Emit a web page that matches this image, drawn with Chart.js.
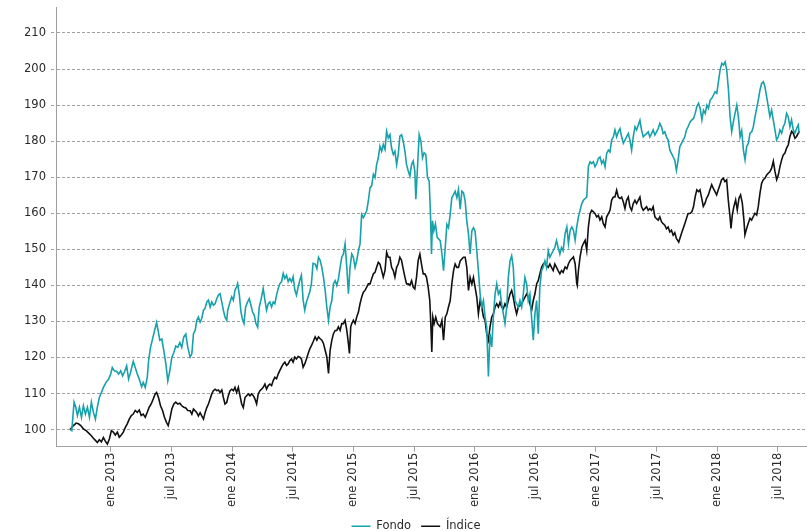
<!DOCTYPE html>
<html>
<head>
<meta charset="utf-8">
<script src="https://cdn.jsdelivr.net/npm/chart.js@4.4.1/dist/chart.umd.min.js"></script>
<style>
  html, body { margin: 0; padding: 0; background: #fff; overflow: hidden; }
  canvas { display: block; }
</style>
</head>
<body>
<canvas id="grafico" width="807" height="542"></canvas>
<script>
// Eje X en meses contados desde enero de 2012 (12 = ene 2013)
const ticksX = [12, 18, 24, 30, 36, 42, 48, 54, 60, 66, 72, 78];
const etiquetasX = ['ene 2013', 'jul 2013', 'ene 2014', 'jul 2014', 'ene 2015', 'jul 2015',
    'ene 2016', 'jul 2016', 'ene 2017', 'jul 2017', 'ene 2018', 'jul 2018'];
const ticksY = [100, 110, 120, 130, 140, 150, 160, 170, 180, 190, 200, 210];

const mesesFondo = [
    7.98, 8.14, 8.37, 8.54, 8.70, 8.90, 9.10, 9.29, 9.49, 9.69,
    9.89, 10.08, 10.28, 10.48, 10.67, 10.87, 11.07, 11.27, 11.53, 11.79,
    11.99, 12.15, 12.35, 12.58, 12.78, 12.98, 13.17, 13.37, 13.57, 13.76,
    13.96, 14.22, 14.42, 14.62, 14.82, 15.05, 15.21, 15.41, 15.61, 15.74,
    15.93, 16.13, 16.33, 16.53, 16.69, 16.85, 17.05, 17.25, 17.45, 17.64,
    17.84, 18.04, 18.24, 18.43, 18.63, 18.83, 19.02, 19.22, 19.42, 19.62,
    19.85, 20.02, 20.18, 20.35, 20.51, 20.67, 20.84, 21.00, 21.17, 21.33,
    21.50, 21.66, 21.83, 21.99, 22.15, 22.32, 22.48, 22.65, 22.81, 22.98,
    23.14, 23.30, 23.47, 23.57, 23.80, 23.96, 24.13, 24.29, 24.45, 24.55,
    24.72, 24.88, 25.01, 25.18, 25.34, 25.54, 25.70, 25.87, 26.03, 26.20,
    26.36, 26.53, 26.69, 26.85, 27.08, 27.25, 27.41, 27.58, 27.74, 27.91,
    28.07, 28.23, 28.40, 28.56, 28.73, 28.89, 29.06, 29.22, 29.39, 29.55,
    29.71, 29.88, 30.04, 30.21, 30.37, 30.54, 30.70, 30.86, 31.03, 31.19,
    31.36, 31.52, 31.69, 31.85, 32.01,
    32.22, 32.39, 32.55, 32.72, 32.88, 33.04, 33.21, 33.37, 33.54, 33.70,
    33.87, 34.03, 34.20, 34.36, 34.52, 34.69, 34.85, 35.02, 35.18, 35.35,
    35.51, 35.67, 35.84, 36.00, 36.17, 36.33, 36.50, 36.66, 36.82, 36.99,
    37.15, 37.32, 37.48, 37.65, 37.81, 37.98, 38.14, 38.30, 38.47, 38.63,
    38.80, 38.96, 39.13, 39.29, 39.45, 39.62, 39.78, 39.95, 40.11, 40.28,
    40.44, 40.60, 40.77, 40.93, 41.10, 41.26, 41.43, 41.59, 41.76, 41.92,
    42.08, 42.18, 42.31, 42.51, 42.68, 42.84, 43.00, 43.17, 43.33, 43.50,
    43.63, 43.73, 43.83, 43.96, 44.12, 44.29,
    44.59, 44.76, 44.92, 45.09, 45.25, 45.41, 45.58, 45.74, 45.91, 46.07,
    46.24, 46.40, 46.57, 46.73, 46.89, 47.06, 47.22, 47.39, 47.55, 47.72,
    47.88, 48.04, 48.21, 48.37, 48.54, 48.70, 48.87, 49.03, 49.19, 49.36,
    49.52, 49.69, 49.85, 50.02, 50.18, 50.35, 50.51, 50.67, 50.84, 51.00,
    51.17, 51.33, 51.50, 51.66, 51.82, 51.99, 52.15, 52.32, 52.48, 52.65,
    52.81, 52.97, 53.14, 53.30, 53.47, 53.63, 53.80, 53.96, 54.13, 54.29,
    54.45, 54.62, 54.78, 54.95, 55.11, 55.28, 55.44, 55.60, 55.77, 55.93,
    56.10, 56.26, 56.43, 56.59, 56.75,
    56.95, 57.12, 57.28, 57.45, 57.61, 57.77, 57.94, 58.10, 58.27, 58.43,
    58.60, 58.76, 58.93, 59.09, 59.25, 59.42, 59.58, 59.75, 59.91, 60.08,
    60.24, 60.40, 60.57, 60.73, 60.90, 61.06, 61.23, 61.39, 61.55, 61.72,
    61.88, 62.05, 62.21, 62.38, 62.54, 62.71, 62.87, 63.03, 63.20, 63.36,
    63.53, 63.69, 63.86, 64.02, 64.18, 64.35, 64.51, 64.68, 64.84, 65.01,
    65.17, 65.33, 65.50, 65.66, 65.83, 65.99, 66.16, 66.32, 66.49, 66.65,
    66.81, 66.98, 67.14, 67.31, 67.47, 67.64, 67.80, 67.96, 68.13, 68.29,
    68.46, 68.62, 68.79, 68.95, 69.11,
    69.33, 69.49, 69.65, 69.82, 69.98, 70.15, 70.31, 70.48, 70.64, 70.81,
    70.97, 71.13, 71.30, 71.46, 71.63, 71.79, 71.96, 72.12, 72.28, 72.45,
    72.61, 72.78, 72.94, 73.11, 73.27, 73.43, 73.60, 73.76, 73.93, 74.09,
    74.26, 74.42, 74.59, 74.75, 74.91, 75.08, 75.24, 75.41, 75.57, 75.74,
    75.90, 76.06, 76.23, 76.39, 76.56, 76.72, 76.89, 77.05, 77.21, 77.38,
    77.54, 77.71, 77.87, 78.04, 78.20, 78.37, 78.53, 78.69, 78.86, 79.02,
    79.19, 79.35, 79.52, 79.68, 79.85, 80.01, 80.11
];
const fondo = [
    100, 99.7, 107.6, 106.2, 103.9, 106.2, 103.4, 106.6, 104.3, 106.2,
    103.4, 107.6, 104.8, 102.9, 106.2, 108.9, 110.3, 111.7, 113.1, 114,
    115.4, 117.2, 116.3, 116.1, 115.4, 116.3, 114.9, 116.1, 117.7, 114,
    115.9, 118.9, 117.2, 115.4, 114, 111.9, 113.1, 111.7, 114.5, 119.1,
    122.8, 125.1, 127.4, 129.7, 127.4, 124.8, 125.1, 121.8, 118.2, 113.5,
    116.3, 120, 121.4, 123.2, 122.8, 124.1, 122.8, 125.7, 126.5, 122.8,
    120.1, 121, 126.6, 127.5, 130.3, 131.2, 129.8, 130.8, 133.1, 133.6,
    135.4, 135.9, 134, 135.4, 134.5, 134.9, 136.3, 137.3, 137.7, 135.4,
    133.1, 131.2, 130.3, 133.1, 135.4, 136.8, 135.9, 138.7, 139.6, 140.5,
    137.3, 132.6, 130.8, 129.4, 134, 135.4, 136.3, 134.5, 132.6, 131.7,
    129.4, 128.4, 134, 135.9, 139.1, 135.9, 133.1, 134.9, 135.4, 134,
    135.4, 134.9, 137.3, 139.1, 140.5, 141, 143.3, 141.9, 142.8, 141,
    141.9, 141, 142.4, 138.7, 137.3, 139.6, 141.4, 142.8, 135.9, 133.1,
    135.4, 136.8, 138.2, 140.5, 146.1,
    145.9, 144.6, 147.8, 146.9, 145, 142.3, 138.6, 134, 130.3, 134,
    135.8, 140.4, 141.3, 140, 141.8, 145, 147.8, 148.7, 151.5, 145,
    137.7, 145, 148.7, 147.8, 145, 146.9, 149.6, 151.5, 159.7, 158.8,
    159.7, 160.7, 163.4, 167.1, 167.6, 170.8, 169.9, 173.5, 175.4, 178.6,
    177.2, 179.1, 177.7, 182.7, 180.9, 181.8, 178.1, 176.3, 177.2, 173.5,
    176.3, 181.4, 181.8, 180, 177.2, 173.5, 171.7, 170.3, 173.5, 174.5,
    171.7, 163.9, 170.8, 181.8, 180, 175.4, 176.8, 176.3, 169.9, 168.9,
    159.7, 148.7, 157.9, 155.1, 157, 153.3,
    152.4, 148.7, 144.1, 150.5, 156.9, 156, 159.7, 164.3, 165.2, 166.1,
    164.3, 166.6, 161.1, 166.1, 165.7, 163.4, 157.9, 154.2, 148.7, 155.1,
    156, 155.1, 149.6, 144.1, 137.6, 134, 135.8, 131.2, 128.5, 114.7,
    126.6, 122.9, 131.2, 137.6, 140.4, 137.6, 138.6, 134.9, 132.1, 129.4,
    134, 142.2, 146.8, 148.2, 145, 135.8, 134.9, 134, 135.8, 134,
    137.6, 142.2, 140.4, 135.8, 137.6, 131.2, 124.8, 132.1, 135.8, 126.6,
    139.5, 144.1, 145, 146.8, 145, 149.6, 147.8, 148.7, 149.6, 150.5,
    152.4, 150.5, 148.7, 150.5, 149.6,
    154.4, 156.2, 151.6, 155.3, 156.2, 155.3, 152.5, 156.2, 159, 160.8,
    162.7, 163.6, 164.1, 164.5, 172.9, 174.3, 173.8, 174.3, 172.9, 173.8,
    175.2, 175.6, 173.8, 174.7, 172.9, 176.6, 177.5, 177, 180.3, 181.2,
    183.1, 181.2, 182.6, 183.5, 181.2, 179.4, 180.3, 181.2, 182.1, 180.3,
    177.5, 181.2, 184, 183.1, 184.4, 185.8, 183.1, 181.2, 181.7, 182.1,
    182.6, 181.2, 182.1, 183.1, 181.7, 182.6, 183.5, 184.9, 183.9, 182.1,
    182.6, 181.2, 180.3, 177.5, 176.6, 175.6, 174.7, 171.9, 174.7, 178.4,
    179.4, 180.3, 181.2, 183.1, 184,
    185.4, 185.9, 186.3, 187.7, 189.6, 190.5, 189.1, 185.9, 188.6, 187.7,
    190, 189.1, 191.4, 191.9, 192.8, 193.7, 193.3, 196.5, 199.7, 201.6,
    201.1, 202, 199.7, 194.2, 186.8, 182.6, 185.4, 187.7, 190, 186.8,
    181.2, 182.9, 177.5, 174.8, 178.5, 179.4, 182.2, 182.6, 184, 186.8,
    189.1, 191.4, 194.2, 196, 196.5, 195.1, 192.3, 189.6, 186.8, 188.6,
    185.9, 183.1, 180.3, 181.2, 183.1, 182.2, 184, 184.9, 187.7, 186.8,
    184, 185.9, 183.1, 182.2, 183.5, 184.5, 182.2
];

const mesesIndice = [
    7.98, 8.31, 8.57, 8.80, 9.03, 9.29, 9.56, 9.82, 10.08, 10.28,
    10.48, 10.67, 10.87, 11.07, 11.27, 11.46, 11.66, 11.86, 12.06, 12.25,
    12.45, 12.65, 12.84, 13.04, 13.24, 13.44, 13.63, 13.83, 14.03, 14.22,
    14.42, 14.62, 14.82, 15.01, 15.21, 15.41, 15.61, 15.80, 16.00, 16.20,
    16.39, 16.53, 16.72, 16.92, 17.12, 17.31, 17.51, 17.68, 17.84, 18.04,
    18.24, 18.43, 18.63, 18.83, 19.02, 19.22, 19.42, 19.62,
    19.85, 20.02, 20.18, 20.35, 20.51, 20.67, 20.84, 21.00, 21.17, 21.33,
    21.50, 21.66, 21.83, 21.99, 22.15, 22.32, 22.48, 22.65, 22.81, 22.98,
    23.14, 23.30, 23.47, 23.63, 23.80, 23.96, 24.13, 24.29, 24.45, 24.62,
    24.78, 24.95, 25.11, 25.28, 25.44, 25.61, 25.77, 25.93, 26.10, 26.26,
    26.43, 26.59, 26.76, 26.92, 27.08, 27.25, 27.41, 27.58, 27.74, 27.91,
    28.07, 28.23, 28.40, 28.56, 28.73, 28.89, 29.06, 29.22, 29.39, 29.55,
    29.71, 29.88, 30.04, 30.21, 30.37, 30.54, 30.70, 30.86, 31.03, 31.19,
    31.36, 31.52, 31.69, 31.85, 32.01,
    32.22, 32.39, 32.55, 32.72, 32.88, 33.04, 33.21, 33.37, 33.54, 33.70,
    33.87, 34.03, 34.20, 34.36, 34.52, 34.69, 34.85, 35.02, 35.18, 35.35,
    35.51, 35.61, 35.74, 35.84, 36.00, 36.17, 36.33, 36.50, 36.66, 36.82,
    36.99, 37.15, 37.32, 37.48, 37.65, 37.81, 37.98, 38.14, 38.30, 38.47,
    38.63, 38.80, 38.96, 39.13, 39.29, 39.45, 39.62, 39.78, 39.95, 40.11,
    40.28, 40.44, 40.60, 40.77, 40.93, 41.10, 41.26, 41.43, 41.59, 41.76,
    41.92, 42.08, 42.25, 42.41, 42.58, 42.74, 42.91, 43.07, 43.23, 43.40,
    43.56, 43.66, 43.76, 43.86, 43.99, 44.15, 44.32,
    44.59, 44.76, 44.92, 45.09, 45.25, 45.41, 45.58, 45.74, 45.91, 46.07,
    46.24, 46.40, 46.57, 46.73, 46.89, 47.06, 47.22, 47.39, 47.55, 47.72,
    47.88, 48.04, 48.21, 48.37, 48.54, 48.70, 48.87, 49.03, 49.19, 49.36,
    49.52, 49.69, 49.85, 50.02, 50.18, 50.35, 50.51, 50.67, 50.84, 51.00,
    51.17, 51.33, 51.50, 51.66, 51.82, 51.99, 52.15, 52.32, 52.48, 52.65,
    52.81, 52.97, 53.14, 53.30, 53.47, 53.63, 53.80, 53.96, 54.13, 54.29,
    54.45, 54.62, 54.78, 54.95, 55.11, 55.28, 55.44, 55.60, 55.77, 55.93,
    56.10, 56.26, 56.43, 56.59, 56.75,
    56.95, 57.12, 57.28, 57.45, 57.61, 57.77, 57.94, 58.10, 58.15, 58.27,
    58.43, 58.60, 58.76, 58.93, 59.09, 59.25, 59.42, 59.58, 59.75, 59.91,
    60.08, 60.24, 60.40, 60.57, 60.73, 60.90, 61.06, 61.23, 61.39, 61.55,
    61.72, 61.88, 62.05, 62.21, 62.38, 62.54, 62.71, 62.87, 63.03, 63.20,
    63.36, 63.53, 63.69, 63.86, 64.02, 64.18, 64.35, 64.51, 64.68, 64.84,
    65.01, 65.17, 65.33, 65.50, 65.66, 65.83, 65.99, 66.16, 66.32, 66.49,
    66.65, 66.81, 66.98, 67.14, 67.31, 67.47, 67.64, 67.80, 67.96, 68.19,
    68.46, 68.79, 69.11,
    69.33, 69.49, 69.65, 69.82, 69.98, 70.15, 70.29, 70.46, 70.62, 70.79,
    70.95, 71.12, 71.28, 71.45, 71.61, 71.78, 71.94, 72.10, 72.27, 72.43,
    72.60, 72.76, 72.93, 73.09, 73.26, 73.36, 73.49, 73.65, 73.82, 73.98,
    74.15, 74.31, 74.48, 74.64, 74.74, 74.91, 75.07, 75.24, 75.40, 75.57,
    75.73, 75.90, 76.06, 76.23, 76.39, 76.56, 76.72, 76.89, 77.05, 77.22,
    77.38, 77.55, 77.71, 77.88, 78.04, 78.21, 78.37, 78.53, 78.70, 78.86,
    79.03, 79.19, 79.36, 79.52, 79.69, 79.85, 80.02, 80.12
];
const indice = [
    100, 101.1, 101.8, 101.6, 101.1, 100.2, 99.7, 99, 98.3, 97.6,
    97, 96.4, 97.2, 96.6, 97.8, 96.8, 96, 97.4, 99.7, 99.3,
    98.5, 99.3, 97.9, 98.5, 99.3, 100.6, 101.6, 102.9, 103.9, 104.3,
    105.3, 104.8, 105.4, 103.9, 104.3, 103.4, 104.8, 106.2, 107.1, 108.5,
    109.9, 110.3, 108.9, 106.6, 105.3, 103.4, 102, 101.1, 102.9, 105.7,
    107.1, 107.6, 107.1, 107.3, 106.6, 106.2, 106, 105.3,
    105.2, 104.3, 105.7, 105.2, 104.7, 103.8, 104.7, 103.8, 102.9, 104.7,
    106.1, 107.1, 108.5, 109.9, 110.8, 111.2, 110.8, 111, 110.3, 111,
    108.9, 107.1, 107.5, 109.4, 110.8, 111.2, 110.8, 111.7, 110.3, 111.7,
    109.4, 107.1, 106.1, 108.9, 109.4, 109.9, 109.4, 109.9, 109.4, 108.5,
    107.1, 109.9, 110.8, 111.2, 111.7, 112.6, 111.2, 112.2, 112.6, 112.2,
    113.6, 114.5, 114.1, 115.4, 116.4, 117.3, 118.2, 118.7, 117.8, 118.2,
    119.1, 119.6, 118.7, 120.1, 119.6, 120.3, 120.1, 119.6, 117.3, 118.2,
    119.6, 121, 122.4, 123.3, 124.3,
    125.7, 124.8, 125.7, 125.2, 124.8, 123.9, 122, 120.2, 115.6, 122,
    124.8, 126.6, 127.5, 127.5, 128.5, 127.5, 129.4, 129.4, 130.3, 127.5,
    123.9, 121.1, 128.5, 129.4, 130.3, 129.4, 131.2, 132.6, 134.9, 136.7,
    138.1, 138.6, 139.5, 140.4, 140.4, 141.8, 143.2, 143.6, 145, 146.4,
    145.9, 144.1, 142.3, 144.1, 149.2, 147.8, 147.8, 145, 144.1, 142.3,
    145, 145.9, 147.8, 146.9, 144.6, 142.3, 140.4, 140.4, 140, 141.3,
    139.5, 139, 142.3, 146.9, 148.7, 145.9, 143.2, 143.2, 142.3, 139.5,
    135.8, 129.4, 121.5, 131.2, 129.4, 131.2, 129.4,
    128.5, 130.3, 124.8, 131.2, 132.1, 134, 135.8, 140.4, 144.1, 145.9,
    145, 145, 146.8, 147.3, 147.8, 147.8, 145, 138.6, 142.2, 140.4,
    142.2, 139.5, 136.7, 132.1, 135.8, 134, 131.2, 130.3, 126.6, 124.8,
    128.5, 131.2, 132.1, 134, 134.9, 134, 135.3, 134, 133.5, 134.9,
    134, 135.8, 137.6, 138.6, 136.7, 134, 132.1, 134, 134.4, 134.9,
    135.8, 136.7, 137.6, 136.7, 134.9, 133, 135.8, 137.6, 140.4, 141.3,
    143.2, 145, 145.9, 146.4, 145.5, 145, 145.9, 145, 144.1, 145.9,
    145, 144.1, 143.2, 144.1, 143.6,
    145.1, 144.6, 146, 146.9, 147.4, 147.9, 146, 140.5, 140, 144.2,
    147.9, 150.6, 151.6, 152.5, 149.7, 156.2, 159.9, 160.8, 160.4, 159.9,
    159, 159.4, 158.1, 159, 157.1, 156.2, 159, 159.9, 160.8, 163.6,
    164.5, 164.5, 166.4, 164.5, 164.1, 164.5, 163.1, 161.3, 163.6, 164.5,
    161.8, 160.8, 162.7, 163.6, 162.7, 163.6, 164.5, 161.8, 160.8, 161.3,
    161.8, 160.8, 161.3, 160.8, 161.8, 159, 158.5, 158.1, 159, 157.6,
    157.1, 156.7, 155.7, 156.2, 154.8, 155.3, 153.9, 154.6, 153, 152,
    154.4, 157.1, 159.9,
    160, 160.4, 161.8, 164.6, 166.5, 166, 166.5, 164.2, 161.9, 162.8,
    164.2, 165.1, 166.5, 167.9, 166.9, 166, 165.1, 166.5, 167.9, 169.3,
    169.7, 168.8, 169.3, 163.7, 159.1, 155.8, 159.5, 161.9, 163.7, 160.9,
    164.2, 165.1, 162.8, 158.1, 154, 155.8, 157.2, 158.6, 158.1, 159.1,
    160, 159.5, 161.9, 165.6, 168.3, 169.3, 169.7, 170.6, 171.1, 171.6,
    172.5, 174.4, 171.6, 169.3, 170.6, 173, 174.8, 176.2, 176.7, 178.1,
    179, 181.3, 182.7, 182.2, 180.8, 181.3, 182.2, 182.7
];

const colorFondo = '#17a1aa';
const colorIndice = '#111111';
const colorGris = '#a0a0a0';
const colorTexto = '#2a2a2a';

Chart.defaults.font.family = "'DejaVu Sans', sans-serif";
Chart.defaults.font.size = 11.5;
Chart.defaults.color = colorTexto;

const serie = (meses, valores) => meses.map((m, i) => ({ x: m, y: valores[i] }));

new Chart(document.getElementById('grafico'), {
    type: 'line',
    data: {
        datasets: [
            {
                label: 'Fondo',
                data: serie(mesesFondo, fondo),
                borderColor: colorFondo,
                backgroundColor: colorFondo,
                borderWidth: 1.6,
                pointRadius: 0,
                tension: 0
            },
            {
                label: 'Índice',
                data: serie(mesesIndice, indice),
                borderColor: colorIndice,
                backgroundColor: colorIndice,
                borderWidth: 1.6,
                pointRadius: 0,
                tension: 0
            }
        ]
    },
    options: {
        responsive: false,
        animation: false,
        devicePixelRatio: 1,
        layout: { padding: { top: 7.4, left: 25, right: 0, bottom: 0 } },
        scales: {
            x: {
                type: 'linear',
                min: 6.58,
                max: 80.88,
                afterBuildTicks: s => { s.ticks = ticksX.map(v => ({ value: v })); },
                afterFit: s => { s.height = 63.8; s.paddingLeft = 0; s.paddingRight = 0; },
                ticks: {
                    autoSkip: false,
                    minRotation: 90,
                    maxRotation: 90,
                    padding: 1,
                    callback: (v, i) => etiquetasX[i]
                },
                grid: { drawOnChartArea: false, drawTicks: true, tickLength: 5, color: colorGris },
                border: { color: colorGris, width: 1 }
            },
            y: {
                min: 95.25,
                max: 217.1,
                afterBuildTicks: s => { s.ticks = ticksY.map(v => ({ value: v })); },
                afterFit: s => { s.width = 31; s.paddingTop = 0; s.paddingBottom = 0; },
                ticks: { padding: 5 },
                grid: { color: colorGris, lineWidth: 1, tickLength: 5, tickBorderDash: [3, 2] },
                border: { color: colorGris, width: 1, dash: [3, 2] }
            }
        },
        plugins: {
            legend: {
                position: 'bottom',
                labels: {
                    usePointStyle: true,
                    pointStyle: 'line',
                    pointStyleWidth: 19,
                    padding: 10,
                    color: colorTexto
                }
            },
            tooltip: { enabled: false }
        }
    }
});
</script>
</body>
</html>
